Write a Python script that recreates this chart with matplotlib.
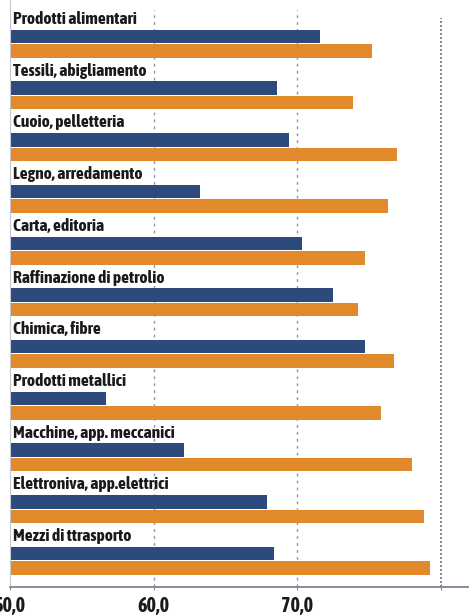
import numpy as np
import matplotlib.pyplot as plt
from matplotlib import font_manager

categories = [
    "Prodotti alimentari",
    "Tessili, abigliamento",
    "Cuoio, pelletteria",
    "Legno, arredamento",
    "Carta, editoria",
    "Raffinazione di petrolio",
    "Chimica, fibre",
    "Prodotti metallici",
    "Macchine, app. meccanici",
    "Elettroniva, app.elettrici",
    "Mezzi di ttrasporto",
]
serie_blu = [71.6, 68.6, 69.4, 63.2, 70.3, 72.5, 74.7, 56.7, 62.1, 67.9, 68.4]
serie_arancio = [75.2, 73.9, 76.9, 76.3, 74.7, 74.2, 76.7, 75.8, 78.0, 78.8, 79.2]
xticks = [50, 60, 70, 80]
xtick_labels = ["50,0", "60,0", "70,0", ""]

BLU = "#2c4a7c"
ARANCIO = "#e2892b"
BASE = 50

# cerca un font stretto (narrow/condensed) se c'e', altrimenti Roboto
narrow = None
for f in font_manager.fontManager.ttflist:
    if ("Narrow" in f.name or "Condensed" in f.name) and f.weight in (700, "bold"):
        narrow = f.fname
        break
if narrow is None:
    for f in font_manager.fontManager.ttflist:
        if "Narrow" in f.name or "Condensed" in f.name:
            narrow = f.fname
            break

if narrow:
    lab_font = font_manager.FontProperties(fname=narrow, size=12.6, weight="bold")
    tick_font = font_manager.FontProperties(fname=narrow, size=14.5, weight="bold")
else:
    lab_font = font_manager.FontProperties(family="Roboto", size=11, weight="bold",
                                           stretch="condensed")
    tick_font = font_manager.FontProperties(family="Roboto", size=12, weight="bold")

fig = plt.figure(figsize=(4.69, 6.16), dpi=100)
ax = fig.add_axes([10 / 469, 29 / 616, 459 / 469, 587 / 616])

# posizioni verticali in "pixel" (asse invertito)
step = 51.7
label_y = 19 + step * np.arange(len(categories))
blu_y = label_y + 17.5
arancio_y = label_y + 32
h = 13.5

for x in [60, 70]:
    ax.axvline(x, ymin=0, ymax=1 - 10 / 587, color="#8d96a8", lw=1.0,
               linestyle=(0, (2, 3)), zorder=0)
ax.axvline(80, ymin=0, ymax=1 - 18 / 587, color="#6d7587", lw=1.2,
           linestyle=(0, (1.2, 1.2)), zorder=0)

ax.barh(blu_y, np.array(serie_blu) - BASE, left=BASE, height=h, color=BLU, zorder=2)
ax.barh(arancio_y, np.array(serie_arancio) - BASE, left=BASE, height=h, color=ARANCIO, zorder=2)

for y, name in zip(label_y, categories):
    ax.text(BASE + 0.2, y, name, ha="left", va="center", fontproperties=lab_font,
            color="#1a1a1a", zorder=3)

ax.set_xlim(BASE, BASE + 459 / 14.37)
ax.set_ylim(587, 0)

ax.set_xticks(xticks)
ax.set_xticklabels(xtick_labels, fontproperties=tick_font, color="#1a1a1a")
ax.tick_params(axis="x", direction="inout", length=5, color="#8a90a0", pad=4)
ax.set_yticks([])

for s in ["top", "right"]:
    ax.spines[s].set_visible(False)
ax.spines["bottom"].set_color("#7d8494")
ax.spines["bottom"].set_linewidth(1.3)
ax.spines["left"].set_color("#c3c7cf")
ax.spines["left"].set_linewidth(0.8)

fig.savefig("out.png", dpi=100)
